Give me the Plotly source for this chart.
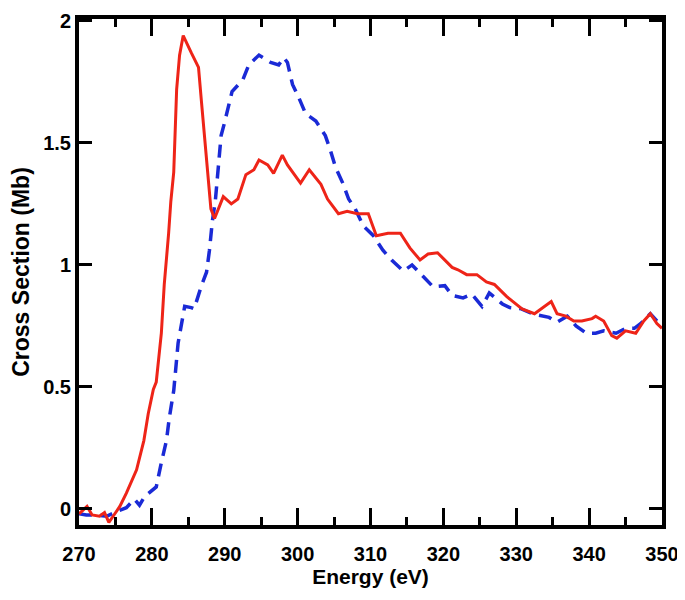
import plotly.graph_objects as go

# solid red curve
red_energy = [270, 271.1, 271.8, 272.8, 273.5, 274.1, 274.8, 275.6, 276.5, 277.9, 278.9, 279.5,
              280.2, 280.6, 281.3, 281.7, 282.3, 282.6, 283.0, 283.4, 283.8, 284.3, 285.4, 286.4,
              286.8, 287.5, 288.1, 288.6, 289.8, 290.9, 291.8, 292.9, 294.0, 294.7, 295.9, 296.7,
              297.9, 298.6, 300.4, 301.6, 303.2, 304.1, 305.6, 306.8, 308.2, 309.7, 310.2, 310.8,
              312.4, 314.1, 315.4, 316.8, 317.9, 319.2, 321.2, 322.0, 323.2, 324.6, 325.9, 327.0,
              328.7, 329.5, 330.8, 332.5, 333.6, 334.8, 335.6, 336.8, 337.9, 339.0, 340.4, 340.9,
              342.0, 343.1, 343.8, 345.0, 346.4, 347.5, 348.4, 349.3, 350]
red_sigma = [-0.02, 0.01, -0.025, -0.03, -0.015, -0.055, -0.025, 0.01, 0.065, 0.16, 0.28, 0.39,
             0.49, 0.52, 0.72, 0.92, 1.13, 1.26, 1.38, 1.72, 1.86, 1.94, 1.87, 1.81,
             1.67, 1.42, 1.23, 1.19, 1.28, 1.25, 1.27, 1.37, 1.39, 1.43, 1.41, 1.375,
             1.45, 1.41, 1.335, 1.39, 1.33, 1.27, 1.21, 1.22, 1.21, 1.21, 1.17, 1.12,
             1.13, 1.13, 1.07, 1.02, 1.045, 1.05, 0.99, 0.98, 0.96, 0.96, 0.93, 0.92,
             0.87, 0.85, 0.82, 0.80, 0.825, 0.85, 0.80, 0.79, 0.77, 0.77, 0.78, 0.79,
             0.77, 0.71, 0.70, 0.73, 0.72, 0.77, 0.80, 0.76, 0.74]

# dashed blue curve
blue_energy = [270, 271, 272, 273.8, 275.2, 276.1, 276.5, 277.6, 278.3, 279.0, 280.6, 281.3,
               282.0, 282.4, 283.0, 283.6, 284.1, 284.5, 285.4, 285.8, 286.8, 287.5, 287.9,
               288.3, 288.7, 289.1, 289.5, 289.9, 290.6, 291.0, 292.5, 293.3, 294.7, 296.3,
               297.4, 298.1, 298.6, 299.3, 300.1, 301.1, 302.5, 303.8, 304.5, 305.2, 306.2,
               307.0, 307.9, 309.0, 310.4, 311.7, 312.9, 314.5, 315.7, 317.2, 318.6, 320.2,
               321.2, 322.7, 323.9, 325.3, 326.3, 328.1, 329.1, 330.7, 332.2, 334.5, 335.6,
               337.0, 338.2, 339.6, 340.9, 342.0, 343.7, 345.0, 346.2, 347.1, 348.4, 349.3, 350]
blue_sigma = [-0.02, -0.025, -0.025, -0.03, -0.01, 0.0, 0.005, 0.04, 0.015, 0.05, 0.09, 0.19,
              0.28, 0.375, 0.485, 0.68, 0.76, 0.83, 0.825, 0.82, 0.915, 0.97, 1.06,
              1.18, 1.26, 1.38, 1.53, 1.575, 1.67, 1.71, 1.76, 1.82, 1.86, 1.83,
              1.82, 1.85, 1.83, 1.74, 1.69, 1.62, 1.59, 1.53, 1.47, 1.40, 1.335,
              1.27, 1.23, 1.16, 1.12, 1.06, 1.02, 0.975, 1.0, 0.955, 0.91, 0.915,
              0.875, 0.865, 0.88, 0.83, 0.885, 0.84, 0.825, 0.82, 0.80, 0.785, 0.765,
              0.79, 0.75, 0.72, 0.72, 0.73, 0.72, 0.74, 0.74, 0.76, 0.80, 0.77, 0.76]

y_ticks = [0, 0.5, 1, 1.5, 2]
y_tick_text = ["0", "0.5", "1", "1.5", "2"]

FONT = "Liberation Sans, Arial, sans-serif"

fig = go.Figure()
fig.add_trace(go.Scatter(
    x=blue_energy, y=blue_sigma, mode="lines",
    line=dict(color="#1a2ad6", width=3.5, dash="13px,8px"),
))
fig.add_trace(go.Scatter(
    x=red_energy, y=red_sigma, mode="lines",
    line=dict(color="#ee2418", width=3),
))

axis_common = dict(
    showline=True, linecolor="black", linewidth=4, mirror="allticks",
    ticks="inside", tickcolor="black", tickwidth=3,
    showgrid=False, zeroline=False, automargin=False,
    tickfont=dict(family=FONT, size=20, color="black", weight="bold"),
)

fig.update_xaxes(
    range=[270, 350], tickmode="linear", tick0=270, dtick=10, ticklen=17,
    ticklabelstandoff=8,
    minor=dict(ticks="inside", dtick=5, tick0=270, ticklen=8, tickwidth=3,
               tickcolor="black", showgrid=False),
    title=dict(text="Energy (eV)", standoff=4,
               font=dict(family=FONT, size=21, color="black", weight="bold")),
    **axis_common,
)
fig.update_yaxes(
    range=[-0.066, 2.008], tickvals=y_ticks, ticktext=y_tick_text, ticklen=13,
    title=dict(text="Cross Section (Mb)", standoff=8,
               font=dict(family=FONT, size=23, color="black", weight="bold")),
    **axis_common,
)

# page body adds an 8px offset, so the figure is sized to the window minus that
fig.update_layout(
    width=677, height=592,
    margin=dict(l=71, r=23, t=11, b=75),
    paper_bgcolor="white", plot_bgcolor="white",
    showlegend=False,
)

fig.write_html("out.html")
